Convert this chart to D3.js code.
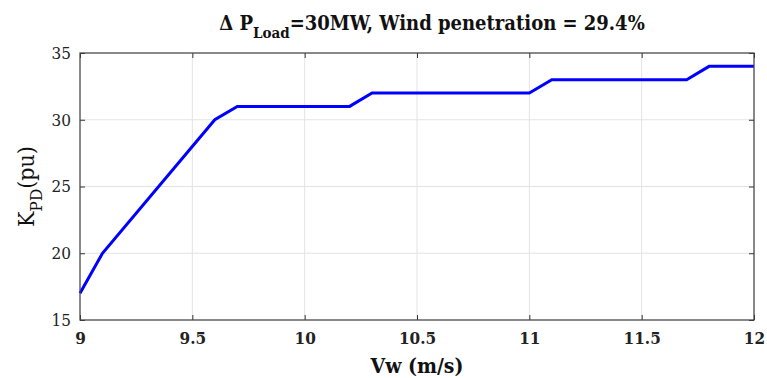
<!DOCTYPE html>
<html><head><meta charset="utf-8">
<script src="https://cdn.jsdelivr.net/npm/d3@7"></script>
<style>body{margin:0;background:#fff}svg{display:block}text{font-stretch:condensed}</style>
</head><body><svg id="c" width="767" height="378"></svg>
<script>
const windSpeed = [9, 9.1, 9.6, 9.7, 10.2, 10.3, 11.0, 11.1, 11.7, 11.8, 12];
const kpd = [17, 20, 30, 31, 31, 32, 32, 33, 33, 34, 34];
const xTicks = [9, 9.5, 10, 10.5, 11, 11.5, 12];
const yTicks = [15, 20, 25, 30, 35];

const FONT = "'DejaVu Serif Condensed', 'DejaVu Serif', serif";
const svg = d3.select("#c");
const m = {l: 80, r: 13, t: 53, b: 58};
const W = 767, H = 378;
const x = d3.scaleLinear().domain([9, 12]).range([m.l, W - m.r]);
const y = d3.scaleLinear().domain([15, 35]).range([H - m.b, m.t]);

svg.append("g").selectAll("line").data(xTicks).join("line")
  .attr("x1", d => x(d)).attr("x2", d => x(d)).attr("y1", y(15)).attr("y2", y(35))
  .attr("stroke", "#e3e3e3").attr("stroke-width", 1);
svg.append("g").selectAll("line").data(yTicks).join("line")
  .attr("y1", d => y(d)).attr("y2", d => y(d)).attr("x1", x(9)).attr("x2", x(12))
  .attr("stroke", "#e3e3e3").attr("stroke-width", 1);

svg.append("path").datum(windSpeed.map((v, i) => [v, kpd[i]]))
  .attr("fill", "none").attr("stroke", "#0000ff").attr("stroke-width", 3)
  .attr("d", d3.line().x(d => x(d[0])).y(d => y(d[1])));

const tickStyle = g => {
  g.attr("font-family", FONT);
  g.select(".domain").remove();
  g.selectAll(".tick line").attr("stroke", "#333");
  g.selectAll(".tick text").attr("font-family", FONT).style("font-size", "17px").attr("fill", "#222");
};
svg.append("g").attr("transform", `translate(0,${y(15)})`)
  .call(d3.axisBottom(x).tickValues(xTicks).tickFormat(d3.format("")).tickSizeInner(-5).tickPadding(12))
  .call(tickStyle).call(g => g.selectAll(".tick text").style("font-weight", "bold"));
svg.append("g").attr("transform", `translate(0,${y(35)})`)
  .call(d3.axisTop(x).tickValues(xTicks).tickFormat("").tickSizeInner(-5)).call(tickStyle);
svg.append("g").attr("transform", `translate(${x(9)},0)`)
  .call(d3.axisLeft(y).tickValues(yTicks).tickSizeInner(-5).tickPadding(9)).call(tickStyle);
svg.append("g").attr("transform", `translate(${x(12)},0)`)
  .call(d3.axisRight(y).tickValues(yTicks).tickFormat("").tickSizeInner(-5)).call(tickStyle);

svg.append("rect").attr("x", x(9)).attr("y", y(35)).attr("width", x(12) - x(9)).attr("height", y(15) - y(35))
  .attr("fill", "none").attr("stroke", "#444").attr("stroke-width", 1.2);

const t = svg.append("text").attr("x", 432).attr("y", 30).attr("text-anchor", "middle")
  .attr("font-family", FONT).style("font-size", "20px").style("font-weight", "bold").attr("fill", "#111");
t.append("tspan").text("Δ P");
t.append("tspan").attr("dy", 8).style("font-size", "15px").text("Load");
t.append("tspan").attr("dy", -8).text("=30MW, Wind penetration = 29.4%");

svg.append("text").attr("x", 417).attr("y", 373).attr("text-anchor", "middle")
  .attr("font-family", FONT).style("font-size", "21px").style("font-weight", "bold").attr("fill", "#111").text("Vw (m/s)");

const yl = svg.append("text").attr("transform", `translate(34,${(y(15) + y(35)) / 2}) rotate(-90)`)
  .attr("text-anchor", "middle").attr("font-family", FONT).style("font-size", "23px").attr("fill", "#111");
yl.append("tspan").text("K");
yl.append("tspan").attr("dy", 8).style("font-size", "17px").text("PD");
yl.append("tspan").attr("dy", -8).text("(pu)");
</script></body></html>
